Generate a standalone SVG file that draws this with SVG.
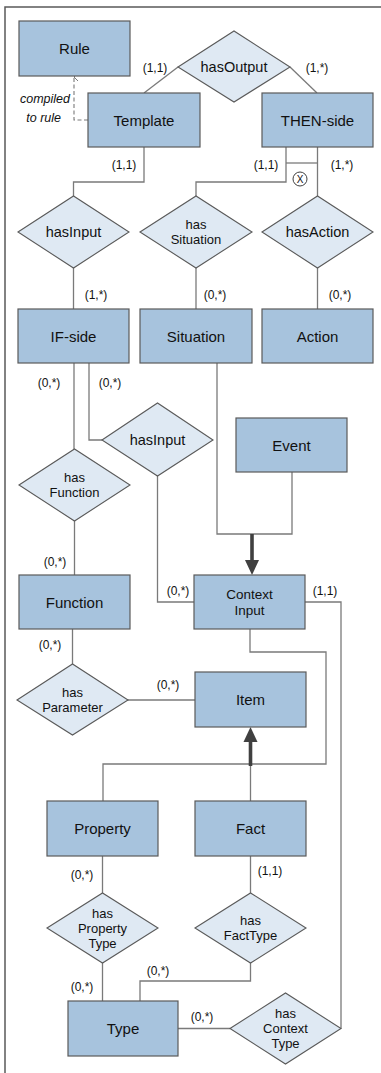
<svg xmlns="http://www.w3.org/2000/svg" width="381" height="1073" viewBox="0 0 381 1073">
<defs>
<style>
.box{fill:#a7c3dd;stroke:#5a5a5a;stroke-width:1.2}
.dia{fill:#dfe9f3;stroke:#5a5a5a;stroke-width:1.1}
.ln{fill:none;stroke:#7a7a7a;stroke-width:1.3}
.thick{fill:none;stroke:#404040;stroke-width:3.6}
.t{font-family:"Liberation Sans",Arial,sans-serif;font-size:15px;fill:#111111;text-anchor:middle;dominant-baseline:central}
.d{font-family:"Liberation Sans",Arial,sans-serif;font-size:14.5px;fill:#111111;text-anchor:middle;dominant-baseline:central}
.m{font-family:"Liberation Sans",Arial,sans-serif;font-size:13px;fill:#111111;text-anchor:middle;dominant-baseline:central}
.c{font-family:"Liberation Sans",Arial,sans-serif;font-size:12px;fill:#111111;text-anchor:middle;dominant-baseline:central}
.i{font-family:"Liberation Sans",Arial,sans-serif;font-size:12.5px;font-style:italic;fill:#111111;text-anchor:end;dominant-baseline:central}
</style>
<marker id="open" markerWidth="10" markerHeight="10" refX="5" refY="1" orient="auto-start-reverse" markerUnits="userSpaceOnUse">
<path d="M1,5 L5,1 L9,5" fill="none" stroke="#7a7a7a" stroke-width="1"/>
</marker>
</defs>
<rect width="381" height="1073" fill="#ffffff"/>
<path d="M5,1073 V7 H381" fill="none" stroke="#5a5a5a" stroke-width="1.5"/>

<g id="connectors">
<path class="ln" d="M144,93 L178,67"/>
<path class="ln" d="M290,67 L317,93"/>
<path d="M88,120 H74 V77" fill="none" stroke="#7a7a7a" stroke-width="1.1" stroke-dasharray="4,2.5" marker-end="url(#open)"/>
<path class="ln" d="M144,147 V182 H73.5 V196"/>
<path class="ln" d="M286,147 V182 H196 V196"/>
<path class="ln" d="M317.5,147 V196"/>
<path class="ln" d="M286,163 H317.5"/>
<circle cx="300" cy="179" r="7" fill="#ffffff" stroke="#404040" stroke-width="1"/>
<text class="c" x="300" y="179" style="font-size:10px">X</text>
<path class="ln" d="M73.5,268 V309"/>
<path class="ln" d="M196,268 V309"/>
<path class="ln" d="M317.5,268 V309"/>
<path class="ln" d="M74,363 V449"/>
<path class="ln" d="M89,363 V440 H102"/>
<path class="ln" d="M157.5,476 V602 H194"/>
<path class="ln" d="M217,363 V534 H292 V472"/>
<path class="thick" d="M252,534 V562"/>
<polygon points="245,560 259,560 252,575" fill="#404040"/>
<path class="ln" d="M74.5,521 V575"/>
<path class="ln" d="M305,602 H341 V1028.5"/>
<path class="ln" d="M250,629 V652 H326 V764 H103 V801"/>
<path class="ln" d="M250.5,801 V764"/>
<path class="thick" d="M250.5,766 V740"/>
<polygon points="243.5,742 257.5,742 250.5,727" fill="#404040"/>
<path class="ln" d="M72.5,629 V664"/>
<path class="ln" d="M127,700 H195"/>
<path class="ln" d="M102.5,856 V893"/>
<path class="ln" d="M250.5,856 V893"/>
<path class="ln" d="M102.5,963 V1001"/>
<path class="ln" d="M250.5,963 V981 H140 V1001"/>
<path class="ln" d="M178,1028.5 H230"/>
</g>

<g id="labels">
<text class="i" x="70" y="99">compiled</text>
<text class="i" x="61" y="118">to rule</text>
<text class="c" x="155" y="68">(1,1)</text>
<text class="c" x="317" y="68">(1,*)</text>
<text class="c" x="124" y="165">(1,1)</text>
<text class="c" x="266" y="165">(1,1)</text>
<text class="c" x="342" y="165">(1,*)</text>
<text class="c" x="96" y="295">(1,*)</text>
<text class="c" x="215" y="295">(0,*)</text>
<text class="c" x="340" y="295">(0,*)</text>
<text class="c" x="49" y="383">(0,*)</text>
<text class="c" x="110" y="383">(0,*)</text>
<text class="c" x="55" y="562">(0,*)</text>
<text class="c" x="178" y="591">(0,*)</text>
<text class="c" x="325" y="591">(1,1)</text>
<text class="c" x="50" y="645">(0,*)</text>
<text class="c" x="168" y="685">(0,*)</text>
<text class="c" x="82" y="875">(0,*)</text>
<text class="c" x="270" y="871">(1,1)</text>
<text class="c" x="82" y="987">(0,*)</text>
<text class="c" x="158" y="971">(0,*)</text>
<text class="c" x="202" y="1017">(0,*)</text>
</g>

<g id="Rule"><rect class="box" x="19" y="21" width="111" height="55"/><text class="t" x="74.5" y="48.5">Rule</text></g>
<g id="hasOutput"><polygon class="dia" points="178,67 234,31 290,67 234,102"/><text class="d" x="234" y="67">hasOutput</text></g>
<g id="Template"><rect class="box" x="88" y="93" width="112" height="54"/><text class="t" x="144" y="120">Template</text></g>
<g id="THEN-side"><rect class="box" x="262" y="93" width="111" height="54"/><text class="t" x="317.5" y="120">THEN-side</text></g>

<g id="hasInput"><polygon class="dia" points="18,232 73.5,196 129,232 73.5,268"/><text class="d" x="73.5" y="232">hasInput</text></g>
<g id="hasSituation"><polygon class="dia" points="140,232 196,196 252,232 196,268"/><text class="m" x="196" y="224">has<tspan x="196" dy="15">Situation</tspan></text></g>
<g id="hasAction"><polygon class="dia" points="262,232 317.5,196 373,232 317.5,268"/><text class="d" x="317.5" y="232">hasAction</text></g>

<g id="IF-side"><rect class="box" x="18" y="309" width="111" height="54"/><text class="t" x="73.5" y="336">IF-side</text></g>
<g id="Situation"><rect class="box" x="140" y="309" width="112" height="54"/><text class="t" x="196" y="336">Situation</text></g>
<g id="Action"><rect class="box" x="262" y="309" width="111" height="54"/><text class="t" x="317.5" y="336">Action</text></g>

<g id="hasInput2"><polygon class="dia" points="102,440 157.5,403 213,440 157.5,476"/><text class="d" x="157.5" y="440">hasInput</text></g>
<g id="Event"><rect class="box" x="236" y="418" width="111" height="54"/><text class="t" x="291.5" y="445">Event</text></g>
<g id="hasFunction"><polygon class="dia" points="19,485 74.5,449 130,485 74.5,521"/><text class="m" x="74.5" y="477">has<tspan x="74.5" dy="15">Function</tspan></text></g>

<g id="Function"><rect class="box" x="19" y="575" width="111" height="54"/><text class="t" x="74.5" y="602">Function</text></g>
<g id="ContextInput"><rect class="box" x="194" y="575" width="111" height="54"/><text class="t" x="249.5" y="594" style="font-size:13.5px">Context<tspan x="249.5" dy="15.5">Input</tspan></text></g>

<g id="hasParameter"><polygon class="dia" points="17,700 72.5,664 128,700 72.5,735"/><text class="m" x="72.5" y="692">has<tspan x="72.5" dy="15">Parameter</tspan></text></g>
<g id="Item"><rect class="box" x="195" y="672" width="111" height="55"/><text class="t" x="250.5" y="699.5">Item</text></g>

<g id="Property"><rect class="box" x="47" y="801" width="111" height="55"/><text class="t" x="102.5" y="828.5">Property</text></g>
<g id="Fact"><rect class="box" x="195" y="801" width="111" height="55"/><text class="t" x="250.5" y="828.5">Fact</text></g>

<g id="hasPropertyType"><polygon class="dia" points="47,928 102.5,893 158,928 102.5,963"/><text class="m" x="102.5" y="913">has<tspan x="102.5" dy="15">Property</tspan><tspan x="102.5" dy="15">Type</tspan></text></g>
<g id="hasFactType"><polygon class="dia" points="195,928 250.5,893 306,928 250.5,963"/><text class="m" x="250.5" y="920">has<tspan x="250.5" dy="15">FactType</tspan></text></g>

<g id="Type"><rect class="box" x="68" y="1001" width="110" height="55"/><text class="t" x="123" y="1028.5">Type</text></g>
<g id="hasContextType"><polygon class="dia" points="230,1028.5 285.5,993 341,1028.5 285.5,1064"/><text class="m" x="285.5" y="1013">has<tspan x="285.5" dy="15">Context</tspan><tspan x="285.5" dy="15">Type</tspan></text></g>
</svg>
